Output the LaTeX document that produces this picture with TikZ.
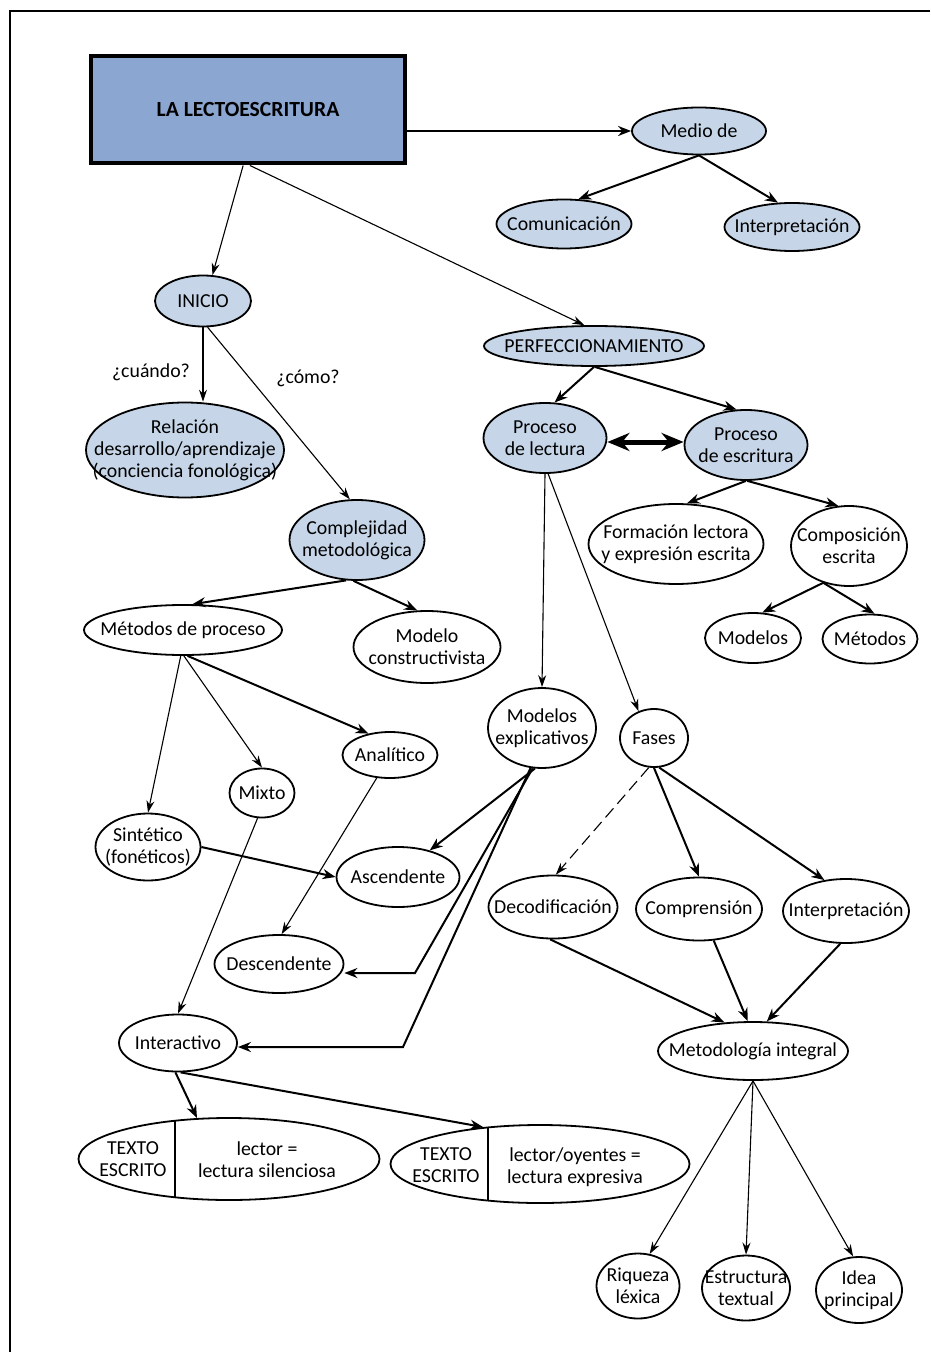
\documentclass[tikz,border=0pt]{standalone}
\usepackage{fontspec}
\setmainfont{Carlito}
\usepackage{tikz}
\usepackage{xcolor}
\usetikzlibrary{shapes.geometric,arrows.meta}

\definecolor{boxblue}{HTML}{8CA6D2}
\definecolor{bubblue}{HTML}{C6D6E8}

\tikzset{
  bub/.style={ellipse,draw,line width=0.9pt,inner sep=0pt},
  blue/.style={bub,fill=bubblue},
  sz/.style 2 args={minimum width=#1*0.5pt,minimum height=#2*0.5pt},
  every label/.style={align=center,inner sep=0pt},
  split/.style={path picture={\draw[line width=0.9pt]
      ([xshift=#1]path picture bounding box.north) --
      ([xshift=#1]path picture bounding box.south);}},
  arr/.style={-{Stealth[length=6.5pt,width=5pt]},line width=1pt},
  tarr/.style={-{Stealth[length=6pt,width=4pt]},line width=0.55pt},
  dbl/.style={{Stealth[length=11pt,width=9pt]}-{Stealth[length=11pt,width=9pt]},line width=2.5pt}
}

\begin{document}
\begin{tikzpicture}[x=0.5pt,y=-0.5pt,font=\fontsize{9.9}{11}\selectfont]
        \useasboundingbox (0,0) rectangle (930,1352);
        \draw[line width=1.2pt] (10,1352) -- (10,11) -- (930,11);

        \node[draw,line width=2pt,fill=boxblue,minimum width=157pt,minimum height=53.5pt,
              font=\fontsize{10.8}{12}\selectfont\bfseries] (lecto) at (248,110) {LA LECTOESCRITURA};
        \node[blue,sz={134}{47},label=center:Medio de] (medio) at (699,131) {};
        \node[blue,sz={135}{49},label=center:Comunicación] (comun) at (564,224) {};
        \node[blue,sz={135}{48},label=center:Interpretación] (interpA) at (792,227) {};
        \node[blue,sz={96}{51},label=center:INICIO] (inicio) at (203,301) {};
        \node[blue,sz={220}{40},label=center:PERFECCIONAMIENTO] (perf) at (594,346) {};
        \node[blue,sz={198}{95},label={center:Relación\\desarrollo/aprendizaje\\(conciencia fonológica)}] (rel) at (185,450) {};
        \node[blue,sz={123}{70},label={center:Proceso\\de lectura}] (pl) at (545,438) {};
        \node[blue,sz={123}{70},label={center:Proceso\\de escritura}] (pe) at (746,445) {};
        \node[blue,sz={135}{80},label={center:Complejidad\\metodológica}] (compl) at (357,540) {};
        \node[bub,sz={175}{80},label={center:Formación lectora\\y expresión escrita}] (form) at (676,544) {};
        \node[bub,sz={116}{80},label={center:Composición\\escrita}] (comp) at (849,546) {};
        \node[bub,sz={198}{50},label=center:Métodos de proceso] (mproc) at (183,630) {};
        \node[bub,sz={147}{72},label={center:Modelo\\constructivista}] (mcons) at (427,647) {};
        \node[bub,sz={96}{50},label=center:Modelos] (modelos) at (753,638) {};
        \node[bub,sz={95}{49},label=center:Métodos] (metodos) at (870,639) {};
        \node[bub,sz={108}{80},label={center:Modelos\\explicativos}] (mexp) at (542,728) {};
        \node[bub,sz={68}{58},label=center:Fases] (fases) at (654,738) {};
        \node[bub,sz={95}{46},label=center:Analítico] (anal) at (390,755) {};
        \node[bub,sz={65}{49},label=center:Mixto] (mixto) at (262,793) {};
        \node[bub,sz={105}{67},label={center:Sintético\\(fonéticos)}] (sint) at (148,847) {};
        \node[bub,sz={123}{60},label=center:Ascendente] (asc) at (398,877) {};
        \node[bub,sz={129}{63},label=center:Decodificación] (deco) at (553,907) {};
        \node[bub,sz={126}{63},label=center:Comprensión] (compr) at (699,909) {};
        \node[bub,sz={126}{64},label=center:Interpretación] (interpB) at (846,911) {};
        \node[bub,sz={129}{58},label=center:Descendente] (desc) at (279,964) {};
        \node[bub,sz={118}{57},label=center:Interactivo] (inter) at (178,1043) {};
        \node[bub,sz={190}{58},label=center:Metodología integral] (metint) at (753,1051) {};
        \node[bub,sz={301}{82},split=-27pt] (t1) at (229,1159) {};
        \node[align=center] (t1a) at (133,1159) {TEXTO\\ESCRITO};
        \node[align=center] (t1b) at (267,1160) {lector =\\lectura silenciosa};
        \node[bub,sz={299}{78},split=-26pt] (t2) at (540,1164) {};
        \node[align=center] (t2a) at (446,1165) {TEXTO\\ESCRITO};
        \node[align=center] (t2b) at (575,1167) {lector/oyentes =\\lectura expresiva};
        \node[bub,sz={83}{65},label={center:Riqueza\\léxica}] (riq) at (638,1286) {};
        \node[bub,sz={88}{65},label={center:Estructura\\textual}] (estr) at (746,1288) {};
        \node[bub,sz={86}{66},label={center:Idea\\principal}] (idea) at (859,1290) {};

        \node (cuando) at (151,372) {¿cuándo?};
        \node (como) at (308,378) {¿cómo?};
        \coordinate (k1) at (415,973);
        \coordinate (k2) at (403,1047);

        \draw[arr] (lecto.east |- medio) -- (medio.west);
        \draw[arr] (medio.south) -- (comun.60);
        \draw[arr] (medio.south) -- (interpA.120);
        \draw[tarr] (lecto.-95) -- (inicio.70);
        \draw[tarr] (lecto.-88) -- (perf.115);
        \draw[tarr] (inicio.south) -- (inicio.south |- rel.north);
        \draw[tarr] (inicio.-80) -- (compl.100);
        \draw[arr] (perf.-90) -- (pl.75);
        \draw[arr] (perf.-88) -- (pe.105);
        \draw[dbl] (pl.east |- 0,442) -- (pe.west |- 0,442);
        \draw[arr] (pe.-90) -- (form.75);
        \draw[arr] (pe.-88) -- (comp.105);
        \draw[arr] (comp.-125) -- (modelos.70);
        \draw[arr] (comp.-125) -- (metodos.80);
        \draw[arr] (compl.-105) -- (mproc.70);
        \draw[arr] (compl.-95) -- (mcons.105);
        \draw[tarr] (mproc.-95) -- (sint.north);
        \draw[tarr] (mproc.-88) -- (mixto.north);
        \draw[arr] (mproc.-80) -- (anal.135);
        \draw[tarr] (pl.south) -- (mexp.north);
        \draw[tarr] (pl.-85) -- (fases.120);
        \draw[arr] (sint.east) -- (asc.west);
        \draw[tarr] (anal.-120) -- (desc.85);
        \draw[tarr] (mixto.-100) -- (inter.north);
        \draw[arr] (mexp.-100) -- (asc.40);
        \draw[arr] (mexp.-103) -- (k1) -- (k1 -| desc.east);
        \draw[arr] (mexp.-106) -- (k2) -- (k2 -| inter.east);
        \draw[tarr,dashed,dash pattern=on 6pt off 3pt] (fases.-100) -- (deco.85);
        \draw[arr] (fases.-90) -- (compr.north);
        \draw[arr] (fases.-80) -- (interpB.125);
        \draw[arr] (deco.-95) -- (metint.135);
        \draw[arr] (compr.-65) -- (metint.100);
        \draw[arr] (interpB.-100) -- (metint.65);
        \draw[arr] (inter.-95) -- (t1.128);
        \draw[arr] (inter.-85) -- (t2.147);
        \draw[tarr] (metint.south) -- (riq.70);
        \draw[tarr] (metint.south) -- (estr.north);
        \draw[tarr] (metint.south) -- (idea.100);
    \end{tikzpicture}
\end{document}
